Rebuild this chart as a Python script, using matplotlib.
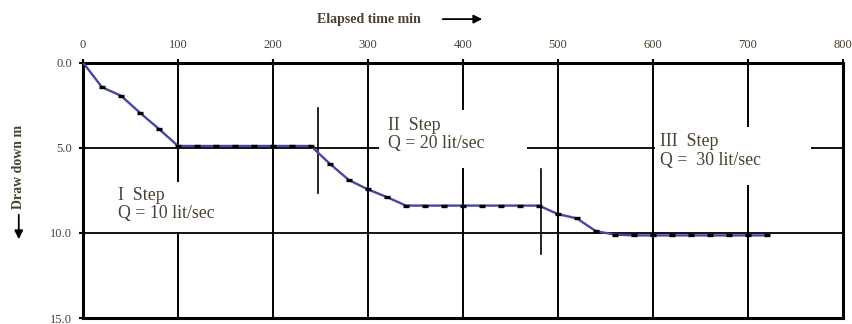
import matplotlib
matplotlib.use("Agg")
import matplotlib.pyplot as plt
from matplotlib.patches import Rectangle

# ---- data ----
time_min = [0, 20, 40, 60, 80, 100, 120, 140, 160, 180, 200, 220, 240,
            260, 280, 300, 320, 340, 360, 380, 400, 420, 440, 460, 480,
            500, 520, 540, 560, 580, 600, 620, 640, 660, 680, 700, 720]
drawdown_m = [0.0, 1.45, 1.95, 2.95, 3.9, 4.9, 4.9, 4.9, 4.9, 4.9, 4.9, 4.9, 4.9,
              5.95, 6.9, 7.45, 7.9, 8.4, 8.4, 8.4, 8.4, 8.4, 8.4, 8.4, 8.4,
              8.9, 9.15, 9.9, 10.1, 10.15, 10.15, 10.15, 10.15, 10.15, 10.15, 10.15, 10.15]
x_ticks = [0, 100, 200, 300, 400, 500, 600, 700, 800]
y_ticks = [0.0, 5.0, 10.0, 15.0]
y_tick_labels = ["0.0", "5.0", "10.0", "15.0"]
step_labels = ["I  Step\nQ = 10 lit/sec", "II  Step\nQ = 20 lit/sec", "III  Step\nQ =  30 lit/sec"]
step_label_pos = [(37, 7.3), (321, 3.2), (608, 4.15)]
step_boxes = [(30, 7.0, 122, 2.95), (312, 2.8, 156, 3.4), (602, 3.8, 165, 3.4)]
step_change_marks = [(247, 2.65, 7.67), (482, 6.25, 11.26)]

serif = ["Liberation Serif", "DejaVu Serif"]
txt_color = "#4a4030"

fig = plt.figure(figsize=(8.53, 3.24), dpi=100)
ax = fig.add_axes([0.0973, 0.0185, 0.8907, 0.7885])
ax.set_xlim(0, 800)
ax.set_ylim(15, 0)

# grid lines
for xv in x_ticks[1:-1]:
    ax.axvline(xv, color="black", lw=1.4, zorder=1)
for yv in y_ticks[1:-1]:
    ax.axhline(yv, color="black", lw=1.3, zorder=1)

# white boxes behind labels (interrupt the grid)
for (bx, by, bw, bh) in step_boxes:
    ax.add_patch(Rectangle((bx, by), bw, bh, facecolor="white", edgecolor="none", zorder=2))

# step change marks
for (sx, y0, y1) in step_change_marks:
    ax.plot([sx, sx], [y0, y1], color="black", lw=1.2, zorder=3)

# data
ax.plot(time_min, drawdown_m, color="#4646a8", lw=1.7, zorder=4,
        marker="_", markersize=3.8, markeredgewidth=2.4, markeredgecolor="black",
        markevery=slice(1, None))

for (tx, ty), lab in zip(step_label_pos, step_labels):
    ax.text(tx, ty, lab, family=serif, fontsize=12.8, color=txt_color,
            ha="left", va="top", linespacing=1.1, zorder=5)

# axes style
for sp in ax.spines.values():
    sp.set_linewidth(2.2)
ax.xaxis.tick_top()
ax.set_xticks(x_ticks)
ax.set_xticklabels([str(v) for v in x_ticks], family=serif, fontsize=9, color=txt_color)
ax.set_yticks(y_ticks)
ax.set_yticklabels(y_tick_labels, family=serif, fontsize=9, color=txt_color)
ax.tick_params(axis="x", direction="out", length=3, width=1.5, pad=5)
ax.tick_params(axis="y", direction="out", length=3, width=1.5, pad=5)

# axis titles with arrows
fig.text(0.432, 0.941, "Elapsed time min", family=serif, fontsize=10, fontweight="bold",
         color=txt_color, ha="center", va="center")
fig.add_artist(matplotlib.patches.FancyArrowPatch((440 / 853, 0.941), (485 / 853, 0.941),
               transform=fig.transFigure, arrowstyle="-|>,head_length=5,head_width=2.5",
               color="black", lw=1.3))
fig.text(0.022, 1 - 166.5 / 324, "Draw down m", family=serif, fontsize=10, fontweight="bold",
         color=txt_color, rotation=90, ha="center", va="center")
fig.add_artist(matplotlib.patches.FancyArrowPatch((0.022, 1 - 212 / 324), (0.022, 1 - 242 / 324),
               transform=fig.transFigure, arrowstyle="-|>,head_length=5,head_width=2.5",
               color="black", lw=1.3))

fig.savefig("out.png", dpi=100)
